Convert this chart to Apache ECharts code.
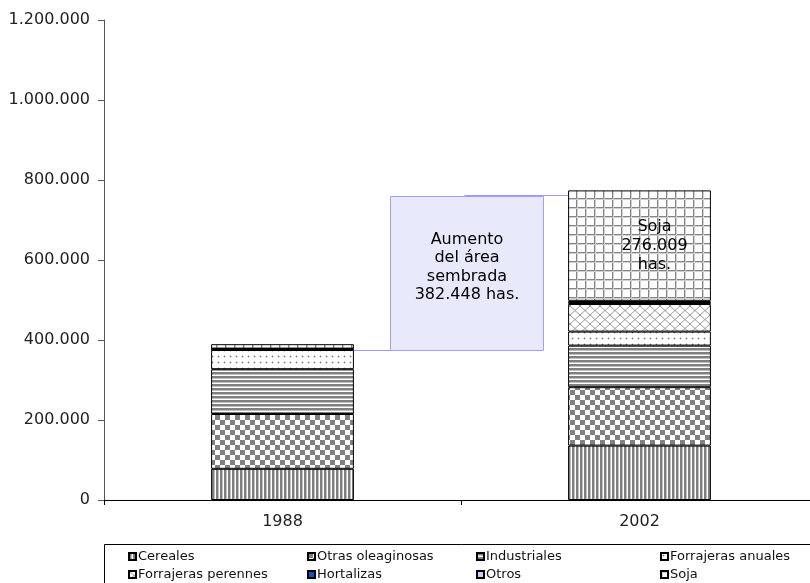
<!DOCTYPE html>
<html>
<head>
<meta charset="utf-8">
<script src="https://cdn.jsdelivr.net/npm/echarts@6/dist/echarts.min.js"></script>
<style>
  html, body { margin: 0; padding: 0; background: #fff; overflow: hidden; }
  /* the plot runs slightly past the right edge of the page */
  #chart { width: 818px; height: 583px; }
</style>
</head>
<body>
<div id="chart"></div>
<script>
// Superficie sembrada por cultivo (hectáreas), campañas 1988 y 2002
const years = ['1988', '2002'];
const cultivos = ['Cereales', 'Otras oleaginosas', 'Industriales', 'Forrajeras anuales',
                  'Forrajeras perennes', 'Hortalizas', 'Otros', 'Soja'];
const cereales           = [78000, 136000];
const otrasOleaginosas   = [137000, 146000];
const industriales       = [112000, 104000];
const forrajerasAnuales  = [48000, 35000];
const forrajerasPerennes = [1000, 69000];
const hortalizas         = [1500, 5000];
const otros              = [1061, 3000];
const soja               = [11000, 276009];
const yTicks = [0, 200000, 400000, 600000, 800000, 1000000, 1200000];
const aumento = 382448;

const FONT = '"DejaVu Sans", "Liberation Sans", Arial, sans-serif';

// Fill patterns drawn on small tiles
function tile(w, h, draw) {
  const c = document.createElement('canvas');
  c.width = w; c.height = h;
  const g = c.getContext('2d');
  g.fillStyle = '#ffffff';
  g.fillRect(0, 0, w, h);
  draw(g);
  return { image: c, repeat: 'repeat' };
}
const patterns = {
  'Cereales': tile(4, 4, g => {
    g.fillStyle = '#808080'; g.fillRect(0, 0, 2, 4);
    g.fillStyle = '#c0c0c0'; g.fillRect(2, 0, 1, 4);
  }),
  'Otras oleaginosas': tile(10, 10, g => {
    g.fillStyle = '#808080';
    g.fillRect(0, 0, 5, 5); g.fillRect(5, 5, 5, 5);
  }),
  'Industriales': tile(4, 4, g => {
    g.fillStyle = '#808080'; g.fillRect(0, 0, 4, 2);
    g.fillStyle = '#c0c0c0'; g.fillRect(0, 2, 4, 1);
  }),
  'Forrajeras anuales': tile(6, 6, g => {
    g.fillStyle = '#d0d0d0'; g.fillRect(1, 2, 3, 1); g.fillRect(2, 1, 1, 3);
    g.fillStyle = '#7a7a7a'; g.fillRect(2, 2, 1, 1);
  }),
  'Forrajeras perennes': tile(10, 9, g => {
    g.strokeStyle = '#9a9a9a'; g.lineWidth = 1;
    g.beginPath();
    g.moveTo(0, 0); g.lineTo(10, 9);
    g.moveTo(10, 0); g.lineTo(0, 9);
    g.stroke();
  }),
  'Hortalizas': '#1450c8',
  'Otros': '#ccccff',
  'Soja': tile(9, 9, g => {
    g.fillStyle = '#858585';
    g.fillRect(0, 0, 9, 1); g.fillRect(0, 0, 1, 9);
    g.fillStyle = '#d0d0d0';
    g.fillRect(0, 1, 9, 1); g.fillRect(1, 0, 1, 9);
  })
};

const values = {
  'Cereales': cereales,
  'Otras oleaginosas': otrasOleaginosas,
  'Industriales': industriales,
  'Forrajeras anuales': forrajerasAnuales,
  'Forrajeras perennes': forrajerasPerennes,
  'Hortalizas': hortalizas,
  'Otros': otros,
  'Soja': soja
};

function fmt(v) {
  return String(v).replace(/\B(?=(\d{3})+(?!\d))/g, '.');
}

const series = cultivos.map(name => ({
  name: name,
  type: 'bar',
  stack: 'area',
  barWidth: '40%',
  itemStyle: { color: patterns[name], borderColor: '#000', borderWidth: 1 },
  emphasis: { disabled: true },
  data: values[name].map((v, i) => {
    if (name === 'Soja' && i === 1) {
      return {
        value: v,
        label: {
          show: true, position: 'inside', offset: [15, 0],
          formatter: 'Soja\n' + fmt(v) + '\nhas.',
          fontFamily: FONT, fontSize: 16, lineHeight: 19, color: '#000'
        }
      };
    }
    return v;
  })
}));

const legendCols = [
  ['Cereales', 'Forrajeras perennes'],
  ['Otras oleaginosas', 'Hortalizas'],
  ['Industriales', 'Otros'],
  ['Forrajeras anuales', 'Soja']
];
const legendLeft = [128, 307, 476, 660];

const chart = echarts.init(document.getElementById('chart'), null, { renderer: 'canvas' });
chart.setOption({
  animation: false,
  backgroundColor: '#ffffff',
  grid: { left: 104, right: 0, top: 20, bottom: 83, containLabel: false },
  legend: legendCols.map((col, k) => ({
    data: col,
    orient: 'vertical',
    left: legendLeft[k],
    top: 549,
    itemWidth: 7, itemHeight: 7, itemGap: 3,
    icon: 'rect',
    selectedMode: false,
    padding: 0,
    textStyle: { fontFamily: FONT, fontSize: 13, color: '#111', padding: [0, 0, 0, -3], lineHeight: 15 }
  })),
  xAxis: {
    type: 'category',
    data: years,
    axisLine: { lineStyle: { color: '#000', width: 1 } },
    axisTick: { show: true, length: 5, alignWithLabel: false, lineStyle: { color: '#000' } },
    axisLabel: { fontFamily: FONT, fontSize: 16, color: '#222', margin: 14 }
  },
  yAxis: {
    type: 'value',
    min: 0, max: yTicks[yTicks.length - 1], interval: yTicks[1] - yTicks[0],
    axisLine: { show: true, lineStyle: { color: '#555', width: 1 } },
    axisTick: { show: true, length: 6, lineStyle: { color: '#555' } },
    splitLine: { show: false },
    axisLabel: { fontFamily: FONT, fontSize: 16, color: '#222', margin: 14, formatter: v => fmt(v) }
  },
  series: series
});

// Annotation box linking both bars
const total1988 = cultivos.reduce((s, n) => s + values[n][0], 0);
const x88 = chart.convertToPixel({ xAxisIndex: 0 }, '1988');
const x02 = chart.convertToPixel({ xAxisIndex: 0 }, '2002');
const band = x02 - x88;
const yPix = v => chart.convertToPixel({ yAxisIndex: 0 }, v);
const lowY = Math.round(yPix(total1988 - 14500)) + 0.5;
const highY = Math.round(yPix(total1988 + aumento - 10000)) + 0.5;
const boxTop = Math.round(yPix(760000)) + 0.5;
const boxBottom = Math.round(yPix(375000)) + 0.5;
const boxLeft = Math.round(x88 + 0.3 * band) + 0.5;
const boxRight = Math.round(x02 - 0.27 * band) + 0.5;
const lineColor = '#9999ff';

chart.setOption({
  graphic: [
    {
      type: 'line', silent: true,
      shape: { x1: x88 + 0.2 * band, y1: lowY, x2: boxLeft, y2: lowY },
      style: { stroke: lineColor, lineWidth: 1 }
    },
    {
      type: 'line', silent: true,
      shape: { x1: x88 + 0.51 * band, y1: highY, x2: x02 - 0.2 * band, y2: highY },
      style: { stroke: lineColor, lineWidth: 1 }
    },
    {
      type: 'rect', silent: true,
      shape: { x: boxLeft, y: boxTop, width: boxRight - boxLeft, height: boxBottom - boxTop },
      style: { fill: '#e9e9fc', stroke: '#a0a0f8', lineWidth: 1 }
    },
    {
      type: 'text', silent: true,
      x: (boxLeft + boxRight) / 2, y: (boxTop + boxBottom) / 2 - 6,
      style: {
        text: 'Aumento\ndel área\nsembrada\n' + fmt(aumento) + ' has.',
        fill: '#000', font: '16px ' + FONT, lineHeight: 18.5,
        align: 'center', verticalAlign: 'middle'
      }
    },
    {
      type: 'rect', silent: true,
      shape: { x: 104.5, y: 544.5, width: 720, height: 45 },
      style: { fill: 'none', stroke: '#000', lineWidth: 1 }
    }
  ]
});
</script>
</body>
</html>
